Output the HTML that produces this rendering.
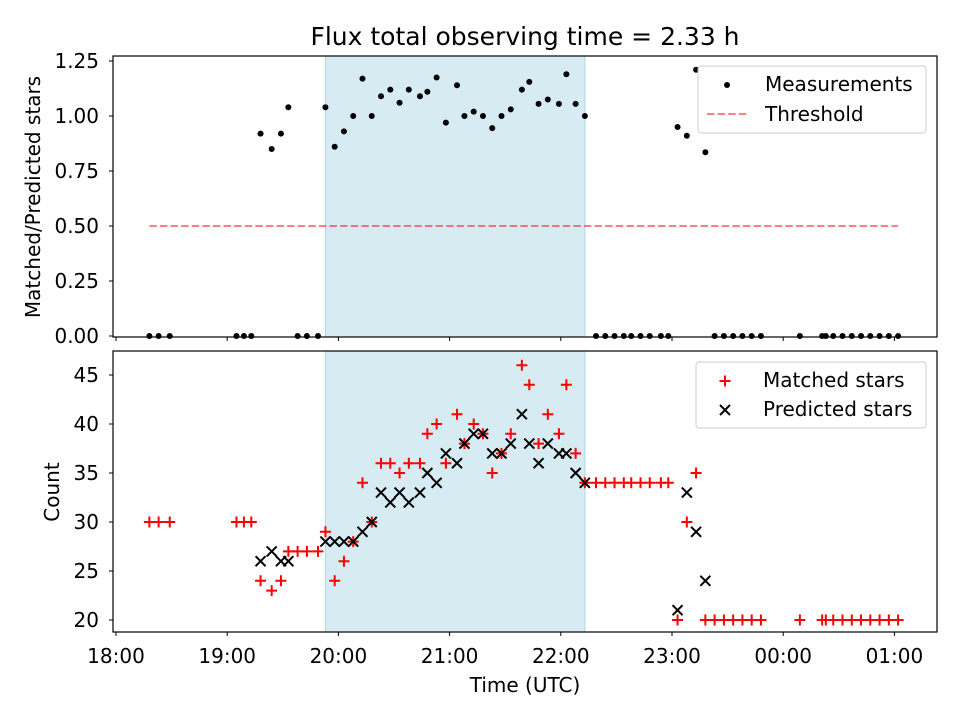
<!DOCTYPE html>
<html><head><meta charset="utf-8"><style>
body{margin:0;background:#fff}
svg{font-family:"DejaVu Sans","Liberation Sans",sans-serif}
</style></head><body>
<svg id="chart" width="960" height="720" xmlns="http://www.w3.org/2000/svg"></svg>
<script>
const times=[18,23,29,65,69,73,78,84,89,93,98,103,109,113,118,123,128,133,138,143,148,153,158,164,168,173,178,184,188,193,198,203,208,213,219,223,228,233,239,243,248,253,259,264,269,274,278,283,288,294,298,303,308,313,318,323,328,333,338,343,348,369,381,383,387,392,397,402,407,412,417,422];
const ratio=[0,0,0,0,0,0,0.92,0.85,0.92,1.04,0,0,0,1.04,0.86,0.93,1.0,1.17,1.0,1.09,1.12,1.06,1.12,1.09,1.11,1.175,0.97,1.14,1.0,1.02,1.0,0.945,1.0,1.03,1.12,1.155,1.055,1.075,1.055,1.19,1.055,1.0,0,0,0,0,0,0,0,0,0,0.95,0.91,1.21,0.835,0,0,0,0,0,0,0,0,0,0,0,0,0,0,0,0,0];
const matched=[30,30,30,30,30,30,24,23,24,27,27,27,27,29,24,26,28,34,30,36,36,35,36,36,39,40,36,41,38,40,39,35,37,39,46,44,38,41,39,44,37,34,34,34,34,34,34,34,34,34,34,20,30,35,20,20,20,20,20,20,20,20,20,20,20,20,20,20,20,20,20,20];
const predicted=[null,null,null,null,null,null,26,27,26,26,null,null,null,28,28,28,28,29,30,33,32,33,32,33,35,34,37,36,38,39,39,37,37,38,41,38,36,38,37,37,35,34,null,null,null,null,null,null,null,null,null,21,33,29,24,null,null,null,null,null,null,null,null,null,null,null,null,null,null,null,null,null];
const xTickLabels=["18:00","19:00","20:00","21:00","22:00","23:00","00:00","01:00"];
const topTicks=[0,0.25,0.5,0.75,1.0,1.25];
const botTicks=[20,25,30,35,40,45];
const shade=[113,253];
const threshold=0.5;

const NS="http://www.w3.org/2000/svg";
const svg=document.getElementById('chart');
function mk(t,a,p){const e=document.createElementNS(NS,t);for(const k in a)e.setAttribute(k,a[k]);(p||svg).appendChild(e);return e;}
const X=m=>116+m*111.2/60;
const Yt=v=>336-v*220;
const Yb=v=>620-(v-20)*9.8;
const FS=20;

function axes(y0,y1,name){
  const g=mk('g',{});
  
  
  const r=mk('rect',{x:X(shade[0]),y:y0,width:X(shade[1])-X(shade[0]),height:y1-y0,fill:'#add8e6','fill-opacity':0.5,stroke:'#add8e6'},g);
  
  
  return g;
}
function frame(y0,y1,labels){
  mk('rect',{x:113,y:y0,width:824,height:y1-y0,fill:'none',stroke:'#000','stroke-width':1.2});
  xTickLabels.forEach((l,i)=>{const x=X(i*60);mk('line',{x1:x,x2:x,y1:y1,y2:y1+4,stroke:'#000'});
    if(labels){const t=mk('text',{x:x,y:y1+31,'text-anchor':'middle','font-size':FS});t.textContent=l;
      }});
}
// top
axes(56,337,'top-axes');
const th=mk('line',{x1:X(times[0]),x2:X(times[times.length-1]),y1:Yt(threshold),y2:Yt(threshold),stroke:'#ff0000','stroke-opacity':0.5,'stroke-width':2,'stroke-dasharray':'7.4,3.2'});

times.forEach((m,i)=>{const c=mk('circle',{cx:X(m),cy:Yt(ratio[i]),r:3,fill:'#000'});
  });
frame(56,337,false);
topTicks.forEach(v=>{const y=Yt(v);mk('line',{x1:109,x2:113,y1:y,y2:y,stroke:'#000'});
  const t=mk('text',{x:99,y:y+7,'text-anchor':'end','font-size':FS});t.textContent=v.toFixed(2);
  });
// bottom
axes(351,632,'bottom-axes');
times.forEach((m,i)=>{const x=X(m),y=Yb(matched[i]);
  const p=mk('path',{d:`M${x-5.5},${y}H${x+5.5}M${x},${y-5.5}V${y+5.5}`,stroke:'#ff0000','stroke-width':2});
  });
times.forEach((m,i)=>{if(predicted[i]==null)return;const x=X(m),y=Yb(predicted[i]);
  const p=mk('path',{d:`M${x-5},${y-5}L${x+5},${y+5}M${x-5},${y+5}L${x+5},${y-5}`,stroke:'#000','stroke-width':2});
  });
frame(351,632,true);
botTicks.forEach(v=>{const y=Yb(v);mk('line',{x1:109,x2:113,y1:y,y2:y,stroke:'#000'});
  const t=mk('text',{x:99,y:y+7,'text-anchor':'end','font-size':FS});t.textContent=v;
  });
</script>
<svg style="position:absolute;left:0;top:0" width="960" height="720" xmlns="http://www.w3.org/2000/svg" font-family="DejaVu Sans, Liberation Sans, sans-serif">
<text x="525" y="45" text-anchor="middle" font-size="25">Flux total observing time = 2.33 h</text>
<text transform="translate(40,197) rotate(-90)" text-anchor="middle" font-size="20">Matched/Predicted stars</text>
<text transform="translate(59,492) rotate(-90)" text-anchor="middle" font-size="20">Count</text>
<text x="525" y="692" text-anchor="middle" font-size="20">Time (UTC)</text>
<g>
<rect x="698" y="66" width="228" height="67" rx="3" fill="#fff" fill-opacity="0.8" stroke="#ccc"/>
<circle cx="727" cy="85" r="3" fill="#000"/>
<text x="765" y="91" font-size="20">Measurements</text>
<line x1="707" x2="748" y1="114" y2="114" stroke="#ff0000" stroke-opacity="0.5" stroke-width="2" stroke-dasharray="7.4,3.2"/>
<text x="765" y="121" font-size="20">Threshold</text>
</g>
<g>
<rect x="696" y="362" width="230" height="66" rx="3" fill="#fff" fill-opacity="0.8" stroke="#ccc"/>
<path d="M719.5,381H730.5M725,375.5V386.5" stroke="#ff0000" stroke-width="2"/>
<text x="763" y="387" font-size="20">Matched stars</text>
<path d="M720,405L730,415M720,415L730,405" stroke="#000" stroke-width="2"/>
<text x="763" y="416" font-size="20">Predicted stars</text>
</g>
</svg>
</body></html>
